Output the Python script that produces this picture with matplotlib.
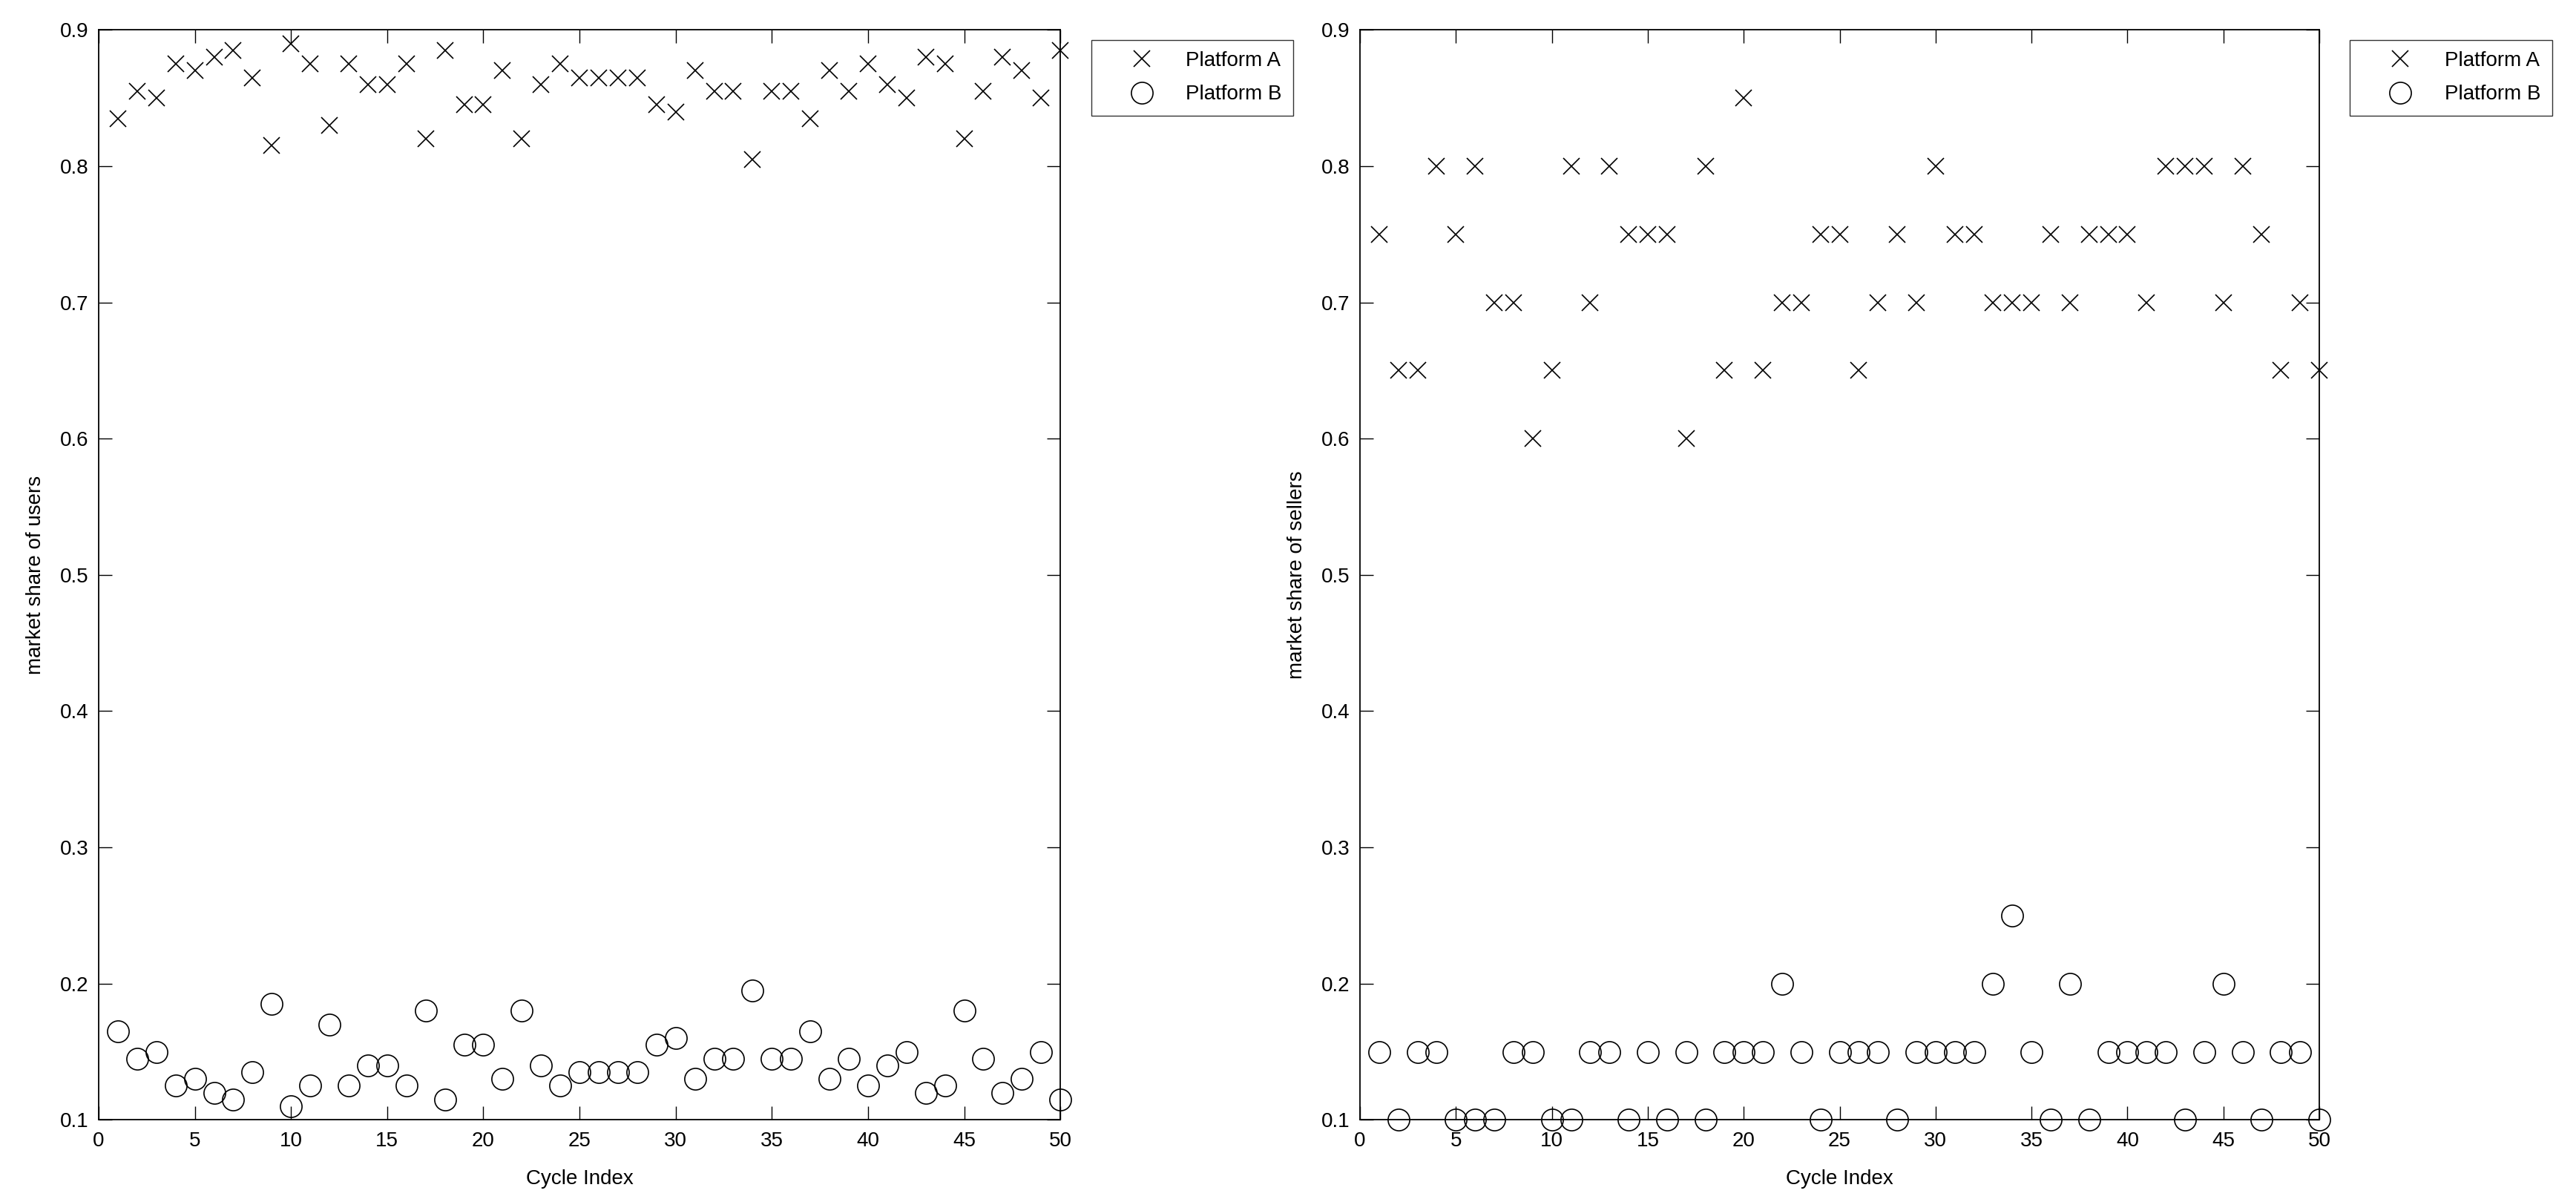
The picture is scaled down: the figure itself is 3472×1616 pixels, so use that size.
import numpy as np
import matplotlib.pyplot as plt

plt.rcParams["font.family"] = ["Liberation Sans", "DejaVu Sans"]

# ============================================================
# Data
# ============================================================

cycles = np.arange(1, 51)

users_a = [
    0.835, 0.855, 0.85, 0.875, 0.87, 0.88, 0.885, 0.865, 0.815, 0.89,
    0.875, 0.83, 0.875, 0.86, 0.86, 0.875, 0.82, 0.885, 0.845, 0.845,
    0.87, 0.82, 0.86, 0.875, 0.865, 0.865, 0.865, 0.865, 0.845, 0.84,
    0.87, 0.855, 0.855, 0.805, 0.855, 0.855, 0.835, 0.87, 0.855, 0.875,
    0.86, 0.85, 0.88, 0.875, 0.82, 0.855, 0.88, 0.87, 0.85, 0.885,
]
users_b = [
    0.165, 0.145, 0.15, 0.125, 0.13, 0.12, 0.115, 0.135, 0.185, 0.11,
    0.125, 0.17, 0.125, 0.14, 0.14, 0.125, 0.18, 0.115, 0.155, 0.155,
    0.13, 0.18, 0.14, 0.125, 0.135, 0.135, 0.135, 0.135, 0.155, 0.16,
    0.13, 0.145, 0.145, 0.195, 0.145, 0.145, 0.165, 0.13, 0.145, 0.125,
    0.14, 0.15, 0.12, 0.125, 0.18, 0.145, 0.12, 0.13, 0.15, 0.115,
]

sellers_a = [
    0.75, 0.65, 0.65, 0.8, 0.75, 0.8, 0.7, 0.7, 0.6, 0.65,
    0.8, 0.7, 0.8, 0.75, 0.75, 0.75, 0.6, 0.8, 0.65, 0.85,
    0.65, 0.7, 0.7, 0.75, 0.75, 0.65, 0.7, 0.75, 0.7, 0.8,
    0.75, 0.75, 0.7, 0.7, 0.7, 0.75, 0.7, 0.75, 0.75, 0.75,
    0.7, 0.8, 0.8, 0.8, 0.7, 0.8, 0.75, 0.65, 0.7, 0.65,
]
sellers_b = [
    0.15, 0.1, 0.15, 0.15, 0.1, 0.1, 0.1, 0.15, 0.15, 0.1,
    0.1, 0.15, 0.15, 0.1, 0.15, 0.1, 0.15, 0.1, 0.15, 0.15,
    0.15, 0.2, 0.15, 0.1, 0.15, 0.15, 0.15, 0.1, 0.15, 0.15,
    0.15, 0.15, 0.2, 0.25, 0.15, 0.1, 0.2, 0.1, 0.15, 0.15,
    0.15, 0.15, 0.1, 0.15, 0.2, 0.15, 0.1, 0.15, 0.15, 0.1,
]

labels = ["Platform A", "Platform B"]
x_ticks = np.arange(0, 51, 5)
y_ticks = np.round(np.arange(0.1, 0.91, 0.1), 1)

FONT_SIZE = 20


def draw_panel(ax, a_vals, b_vals, ylabel):
    ax.plot(cycles, a_vals, linestyle="none", marker="x", markersize=16,
            markeredgewidth=1.2, color="black", clip_on=False, label=labels[0])
    ax.plot(cycles, b_vals, linestyle="none", marker="o", markersize=21,
            markeredgewidth=1.2, markerfacecolor="none", color="black",
            clip_on=False, label=labels[1])

    ax.set_xlim(0, 50)
    ax.set_ylim(0.1, 0.9)
    ax.set_xticks(x_ticks)
    ax.set_yticks(y_ticks)
    ax.set_yticklabels([f"{v:.1f}" for v in y_ticks])
    ax.tick_params(direction="in", length=13, width=1.0, top=True, right=True,
                   labelsize=FONT_SIZE)
    ax.tick_params(axis="x", pad=11)
    ax.tick_params(axis="y", pad=10)
    for spine in ax.spines.values():
        spine.set_linewidth(1.3)

    ax.set_xlabel("Cycle Index", fontsize=FONT_SIZE, labelpad=18)
    ax.set_ylabel(ylabel, fontsize=FONT_SIZE, labelpad=14)

    leg = ax.legend(loc="upper left", bbox_to_anchor=(1.032, 0.991),
                    borderaxespad=0, fontsize=FONT_SIZE, frameon=True,
                    fancybox=False, handlelength=3.8, handletextpad=0.25,
                    borderpad=0.55, labelspacing=0.7)
    leg.get_frame().set_edgecolor("black")
    leg.get_frame().set_linewidth(1.0)


fig = plt.figure(figsize=(34.73, 16.16), dpi=100)
ax1 = fig.add_axes([0.0383, 0.066, 0.3732, 0.909])
ax2 = fig.add_axes([0.5278, 0.066, 0.3723, 0.909])

draw_panel(ax1, users_a, users_b, "market share of users")
draw_panel(ax2, sellers_a, sellers_b, "market share of sellers")

fig.savefig("out.png", dpi=100, facecolor="white")
